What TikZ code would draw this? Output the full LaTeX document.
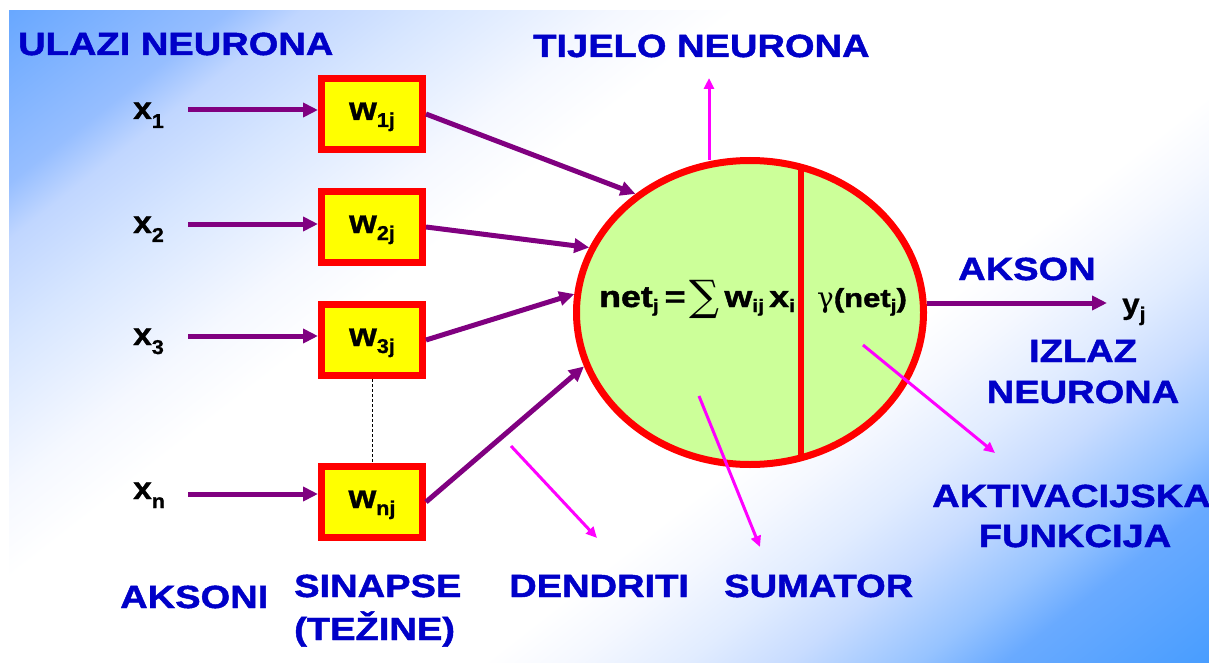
\documentclass[tikz,border=0pt]{standalone}
\usepackage{fontspec}
\usetikzlibrary{arrows.meta,shapes.geometric,calc}
\newfontfamily\labfont[FakeStretch=1.19,FakeBold=1.5]{Liberation Sans}
\newfontfamily\blkfont[FakeStretch=1.08,FakeBold=1]{Liberation Sans}
\newfontfamily\symfont{DejaVu Serif}
\definecolor{labblue}{RGB}{0,0,200}
\definecolor{arrpurple}{RGB}{128,0,128}
\definecolor{pinkc}{RGB}{255,0,255}
\definecolor{boxred}{RGB}{255,0,0}
\definecolor{boxyel}{RGB}{255,255,0}
\definecolor{cellgreen}{RGB}{204,255,153}
\definecolor{bgA}{RGB}{105,168,255}
\definecolor{bgA1}{RGB}{150,190,255}
\definecolor{bgA2}{RGB}{192,214,255}
\definecolor{bgA3}{RGB}{215,230,255}
\definecolor{bgA4}{RGB}{245,248,255}
\definecolor{bgB}{RGB}{72,157,255}
\definecolor{bgB0}{RGB}{105,170,255}
\definecolor{bgB1}{RGB}{150,195,255}
\definecolor{bgB2}{RGB}{200,220,255}
\definecolor{bgB3}{RGB}{225,236,255}
\definecolor{bgB4}{RGB}{245,248,255}
\pgfdeclareverticalshading{bgsh}{100bp}{color(0bp)=(bgB); color(15bp)=(bgB); color(22bp)=(bgB0); color(25bp)=(bgB1); color(29.5bp)=(bgB2); color(33bp)=(bgB3); color(37bp)=(bgB4); color(40bp)=(white); color(60bp)=(white); color(64bp)=(bgA4); color(70.5bp)=(bgA3); color(75bp)=(bgA2); color(77.5bp)=(bgA1); color(85bp)=(bgA); color(100bp)=(bgA)}
\newcommand\sbx[2][-7pt]{\raisebox{#1}{\fontsize{20}{20}\selectfont #2}}
\newcommand\sbs[2][-5pt]{\raisebox{#1}{\fontsize{18}{18}\selectfont #2}}
\begin{document}
\begin{tikzpicture}[x=1pt,y=-1pt,
  lbl/.style={text=labblue,font=\labfont\bfseries\fontsize{32}{32}\selectfont,inner sep=0pt},
  blk/.style={text=black,font=\blkfont\bfseries\fontsize{31}{31}\selectfont,inner sep=0pt,anchor=base west},
  wbox/.style={draw=boxred,fill=boxyel,line width=7pt,minimum width=101pt,minimum height=71pt,inner sep=0pt,text height=20pt,text depth=8pt,font=\blkfont\bfseries\fontsize{33}{33}\selectfont},
  pin/.style={draw=arrpurple,line width=5pt,-{Triangle[length=15pt,width=14pt]}},
  pinkarrow/.style={draw=pinkc,line width=3pt,-{Triangle[length=11pt,width=10pt]}},
  frm/.style={text=black,font=\labfont\bfseries\fontsize{30}{30}\selectfont,inner sep=0pt,anchor=base west}
]
\useasboundingbox (0,0) rectangle (1209,663);
\fill[shading=bgsh,shading angle=38] (9,11) rectangle (1209,663);

% synapse boxes
\node[wbox] (w1) at (372,114) {w\sbx{1j}};
\node[wbox] (w2) at (372,227) {w\sbx{2j}};
\node[wbox] (w3) at (372,340) {w\sbx{3j}};
\node[wbox] (wn) at (372,502) {w\sbx{nj}};
\draw[black,line width=0.9pt,dash pattern=on 3pt off 2pt] (w3.south) -- (wn.north);

% inputs
\node[blk] (x1) at (133,119) {x\sbx[-9pt]{1}};
\node[blk] (x2) at (133,233) {x\sbx[-9pt]{2}};
\node[blk] (x3) at (133,345) {x\sbx[-9pt]{3}};
\node[blk] (xn) at (133,499) {x\sbx[-9pt]{n}};
\coordinate (a1) at (188,110);
\coordinate (a2) at (188,224);
\coordinate (a3) at (188,336);
\coordinate (an) at (188,494);
\draw[pin] (a1) -- (a1 -| w1.west);
\draw[pin] (a2) -- (a2 -| w2.west);
\draw[pin] (a3) -- (a3 -| w3.west);
\draw[pin] (an) -- (an -| wn.west);

% neuron body
\node[ellipse,draw=boxred,fill=cellgreen,line width=7pt,minimum width=347pt,minimum height=304pt,inner sep=0pt] (cell) at (750,312.5) {};
\coordinate (vt) at (801,167);
\coordinate (vb) at (801,458);
\draw[boxred,line width=6pt] (vt) -- (vb);

% dendrites
\draw[pin] (w1.east) -- (cell.134.9);
\draw[pin] (w2.east) -- (cell.158.6);
\draw[pin] (w3.east) -- (cell.174.7);
\draw[pin] (wn.east) -- (cell.198.3);

% axon
\coordinate (axend) at (1107,303);
\draw[pin] (axend -| cell.east) -- (axend);
\node[blk,font=\blkfont\bfseries\fontsize{29}{29}\selectfont] (yj) at (1122,314) {y\sbx[-7pt]{j}};

% formulas
\node[frm] (net) at (599,307) {net\sbs{j}\hspace{6pt}=\hspace{4pt}\raisebox{-3pt}{\symfont\mdseries\fontsize{42}{42}\selectfont ∑}\hspace{5pt}w\sbs{ij}\hspace{5pt}x\sbs{i}};
\node[frm,font=\labfont\bfseries\fontsize{26}{26}\selectfont] (gam) at (817,307) {{\symfont\mdseries\fontsize{28}{28}\selectfont γ}(net\sbs{j})};

% pink pointers
\coordinate (tj0) at (709,160); \coordinate (tj1) at (709,78);
\coordinate (dd0) at (511,446); \coordinate (dd1) at (597,538);
\coordinate (su0) at (699,396); \coordinate (su1) at (760,547);
\coordinate (ak0) at (863,345); \coordinate (ak1) at (995,453);
\draw[pinkarrow] (tj0) -- (tj1);
\draw[pinkarrow] (dd0) -- (dd1);
\draw[pinkarrow] (su0) -- (su1);
\draw[pinkarrow] (ak0) -- (ak1);

% labels
\node[lbl,anchor=base west] (ulazi) at (18,55) {ULAZI NEURONA};
\node[lbl,anchor=base west] (tijelo) at (533,57) {TIJELO NEURONA};
\node[lbl,anchor=base west] (akson) at (958,280) {AKSON};
\node[lbl,anchor=base] (izlaz1) at (1083,362) {IZLAZ};
\node[lbl,anchor=base] (izlaz2) at (1083,403) {NEURONA};
\node[lbl,anchor=base west] (akt1) at (932,507) {AKTIVACIJSKA};
\node[lbl,anchor=base] (akt2) at (1075,547) {FUNKCIJA};
\node[lbl,anchor=base west] (aksoni) at (120,608) {AKSONI};
\node[lbl,anchor=base west] (sin1) at (294,597) {SINAPSE};
\node[lbl,anchor=base west] (sin2) at (294,640) {(TEŽINE)};
\node[lbl,anchor=base west] (dend) at (509,597) {DENDRITI};
\node[lbl,anchor=base west] (sum) at (724,597) {SUMATOR};
\end{tikzpicture}
\end{document}
